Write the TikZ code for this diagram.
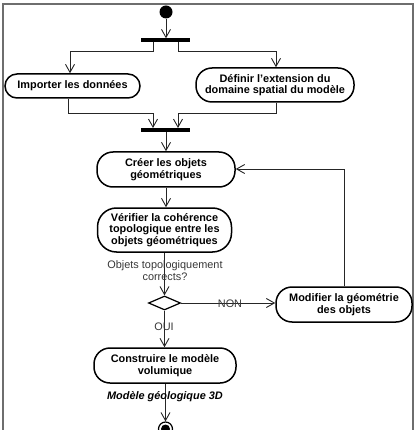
\documentclass[tikz,border=0pt]{standalone}
\usepackage{fontspec}
\setmainfont{Liberation Sans}
\usetikzlibrary{arrows.meta,shapes.geometric}
\definecolor{framegray}{RGB}{110,110,110}
\definecolor{labelgray}{RGB}{55,55,55}
\tikzset{
  act/.style={draw=black, line width=1.5pt, rounded corners=16pt, inner sep=0pt,
    align=center, font=\fontsize{10.9}{11.6}\selectfont\bfseries},
  bar/.style={fill=black, draw=none, minimum width=49pt, minimum height=4pt, inner sep=0pt},
  flow/.style={draw=black!85, line width=0.9pt, -{Straight Barb[length=8pt,width=9pt,line width=0.9pt]}},
  lbl/.style={font=\fontsize{10.9}{12}\selectfont, text=labelgray, inner sep=0pt, align=center},
}
\begin{document}
\begin{tikzpicture}[x=1pt,y=-1pt]
\useasboundingbox (0,0) rectangle (418,430);
\begin{scope}
\clip (0,0) rectangle (418,430);
\draw[framegray, line width=1.6pt] (3,4) rectangle (413,445);
\end{scope}

% start and bars
\node[circle, fill=black, minimum size=13pt, inner sep=0pt] (start) at (166,12) {};
\node[bar] (fork) at (165.5,40.5) {};
\node[bar] (join) at (165.5,130) {};

% activities
\node[act, rounded corners=12pt, minimum width=135pt, minimum height=24pt] (imp) at (72.5,86) {Importer les données};
\node[act, minimum width=158pt, minimum height=34pt] (def) at (275,85) {Définir l'extension du\\domaine spatial du modèle};
\node[act, minimum width=138pt, minimum height=35pt] (cre) at (166,169.5) {Créer les objets\\géométriques};
\node[act, rounded corners=19pt, minimum width=134pt, minimum height=44pt] (ver) at (164.5,230) {Vérifier la cohérence\\topologique entre les\\objets géométriques};
\node[act, minimum width=136pt, minimum height=35pt] (mod) at (344,304.5) {Modifier la géométrie\\des objets};
\node[act, minimum width=142pt, minimum height=35pt] (con) at (165,365.5) {Construire le modèle\\volumique};

% decision
\node[diamond, draw=black, line width=1.2pt, minimum width=32pt, minimum height=14pt, inner sep=0pt, aspect=2.3] (dec) at (164.5,303) {};

% final node
\node[circle, draw=black, line width=1.2pt, minimum size=14pt, inner sep=0pt] (fin) at (165.5,429) {};
\node[circle, fill=black, minimum size=9pt, inner sep=0pt] (finin) at (fin.center) {};

% coordinates
\coordinate (f1) at (153,42.5);
\coordinate (f2) at (178,42.5);
\coordinate (j1) at (153,128);
\coordinate (j2) at (178,128);

% connectors
\draw[flow] (start) -- (fork.north -| start);
\draw[flow] (f1) |- (70,51) -- (imp.north -| 70,0);
\draw[flow] (f2) |- (276,51) -- (def.north -| 276,0);
\draw[flow] (imp.south -| 68,0) |- (153,113) -- (j1);
\draw[flow] (def.south -| 276,0) |- (178,113) -- (j2);
\draw[flow] (join.south -| cre) -- (cre.north);
\draw[flow] (cre) -- (ver.north -| cre);
\draw[flow] (ver.south -| dec) -- (dec.north);
\draw[flow] (dec.east) -- (mod.west |- dec.east);
\draw[flow] (mod.north) |- (cre.east |- 0,169);
\draw[flow] (dec.south) -- (con.north -| dec);
\draw[flow] (con.south -| 165.5,0) -- (fin.north);

% labels
\node[lbl] (q) at (165,271) {Objets topologiquement\\corrects?};
\node[lbl] (non) at (230,303.5) {NON};
\node[lbl] (oui) at (164,327) {OUI};
\node[font=\fontsize{10.9}{12}\selectfont\bfseries\itshape, inner sep=0pt] (out) at (165,397) {Modèle géologique 3D};
\end{tikzpicture}
\end{document}
